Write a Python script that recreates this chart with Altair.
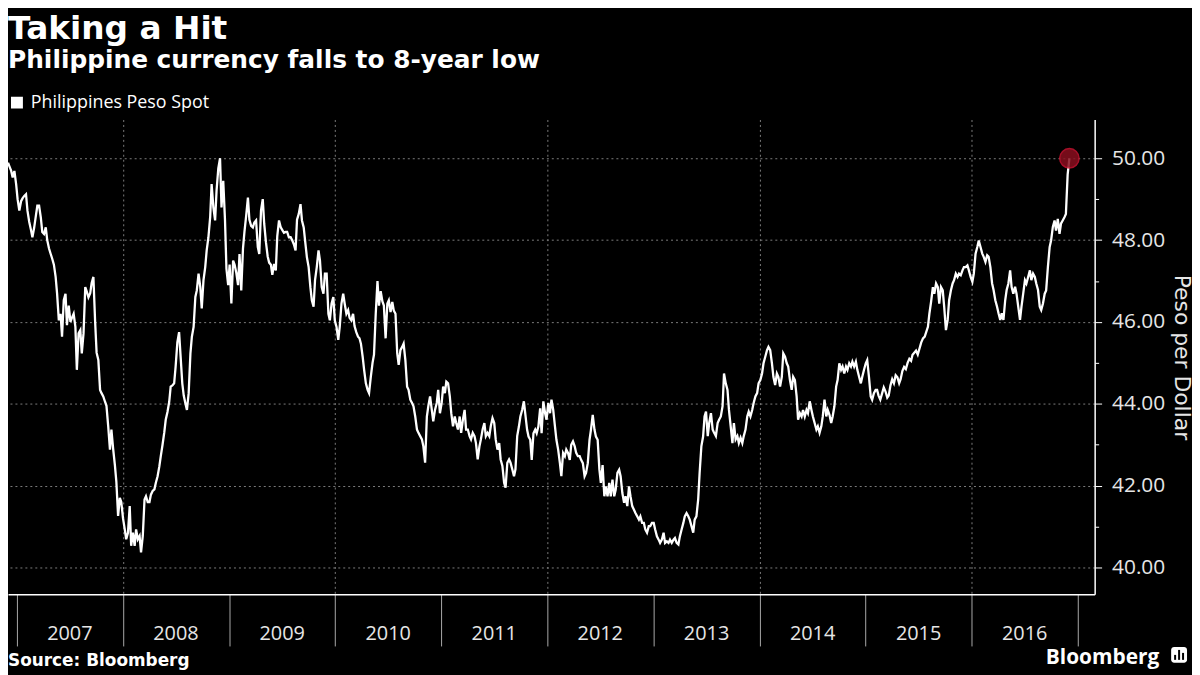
import altair as alt
import pandas as pd

# ---- data (USD/PHP spot), split in consecutive stretches ----
# each stretch: start date, end date, values evenly spaced in time between them
peso_a_start, peso_a_end = "2006-12-02", "2008-07-13"
peso_a = [49.89, 49.80, 49.69, 49.53, 49.69, 49.37, 49.00, 48.72, 48.95, 49.02,
          49.08, 49.12, 48.72, 48.45, 48.25, 48.07, 48.30, 48.60, 48.84, 48.84,
          48.55, 48.20, 48.15, 48.31, 48.00, 47.80, 47.66, 47.55, 47.40, 47.10,
          46.69, 46.04, 46.20, 45.64, 46.53, 46.69, 45.92, 46.40, 46.00, 46.10,
          46.20, 45.88, 44.83, 45.72, 45.80, 45.23, 45.72, 46.85, 46.75, 46.60,
          46.70, 46.95, 47.10, 46.00, 45.25, 45.07, 44.34, 44.26, 44.18, 44.05,
          43.95, 43.45, 42.88, 43.37, 42.90, 42.50, 42.10, 41.26, 41.70, 41.60,
          41.20, 40.93, 40.69, 40.85, 41.50, 40.53, 40.85, 40.53, 40.93, 40.69,
          40.77, 40.37, 40.77, 41.66, 41.74, 41.60, 41.60, 41.78, 41.87, 41.91,
          42.07, 42.23, 42.47, 42.72, 43.00, 43.30, 43.61, 43.80, 44.05, 44.42,
          44.45, 44.50, 44.90, 45.50, 45.75]

peso_b_start, peso_b_end = "2008-07-24", "2010-03-21"
peso_b = [44.50, 44.20, 44.00, 43.85, 44.26, 45.23, 45.64, 45.88, 46.61, 46.77,
          47.18, 46.85, 46.33, 47.02, 47.34, 47.75, 48.07, 48.56, 49.37, 48.80,
          48.48, 49.21, 49.75, 50.00, 48.80, 49.45, 48.50, 47.30, 46.90, 47.40,
          46.45, 47.50, 47.40, 47.20, 46.90, 47.66, 46.77, 47.80, 48.20, 48.60,
          49.04, 48.50, 48.35, 48.31, 48.43, 48.48, 47.83, 47.66, 48.72, 49.00,
          48.40, 47.95, 47.60, 47.45, 47.40, 47.15, 47.42, 47.26, 48.10, 48.48,
          48.31, 48.25, 48.18, 48.20, 48.20, 48.07, 48.07, 48.00, 47.90, 47.75,
          48.50, 48.64, 48.88, 48.48, 48.31, 47.91, 47.58, 47.34, 46.85, 46.53,
          46.37, 47.02, 47.34, 47.75, 47.50, 46.85, 46.69, 47.18, 47.18, 46.20,
          46.04, 46.45, 46.61, 46.04, 45.88, 45.56, 45.88, 46.45, 46.69, 46.45,
          46.20, 46.29, 46.10, 46.04, 46.20, 45.90, 45.75, 45.64]

peso_c_start, peso_c_end = "2010-03-26", "2011-10-13"
peso_c = [45.60, 45.47, 45.15, 44.83, 44.50, 44.34, 44.26, 44.66, 45.00, 45.20,
          46.20, 47.00, 46.40, 46.75, 46.50, 46.40, 45.60, 46.45, 46.53, 46.24,
          46.49, 46.28, 46.20, 45.23, 44.95, 45.31, 45.39, 45.47, 45.07, 44.42,
          44.34, 44.10, 44.02, 43.94, 43.69, 43.37, 43.29, 43.21, 43.13, 42.96,
          42.56, 43.69, 43.94, 44.18, 43.85, 43.57, 43.85, 44.02, 44.34, 43.77,
          44.02, 44.42, 44.26, 44.54, 44.50, 44.18, 43.77, 43.45, 43.69, 43.53,
          43.37, 43.69, 43.29, 43.61, 43.85, 43.37, 43.37, 43.21, 43.13, 43.29,
          43.21, 43.04, 42.64, 42.96, 43.13, 43.37, 43.53, 43.21, 43.29, 43.21,
          43.45, 43.65, 43.53, 43.13, 42.88, 43.04, 42.64, 42.48, 42.07, 41.95,
          42.56, 42.64, 42.56, 42.40, 42.23, 42.40, 43.21, 43.45, 43.69, 43.85,
          44.06]

peso_d_start, peso_d_end = "2011-10-24", "2013-06-21"
peso_d = [43.37, 43.20, 43.12, 42.63, 43.28, 43.37, 43.28, 43.45, 43.89, 43.28,
          44.06, 43.77, 43.61, 44.02, 43.77, 44.10, 43.85, 43.45, 43.12, 42.88,
          42.55, 42.23, 42.80, 42.72, 42.88, 42.80, 42.63, 43.00, 43.08, 42.96,
          42.80, 42.72, 42.72, 42.63, 42.55, 42.23, 42.31, 42.55, 43.12, 43.37,
          43.73, 43.37, 43.20, 43.12, 42.39, 42.07, 42.50, 41.74, 41.98, 41.74,
          42.07, 41.74, 42.15, 41.74, 41.90, 42.31, 42.39, 42.23, 41.82, 41.58,
          41.74, 41.50, 41.98, 41.74, 41.50, 41.41, 41.33, 41.25, 41.17, 41.25,
          41.09, 41.09, 40.93, 40.85, 41.01, 41.01, 41.09, 41.09, 40.93, 40.76,
          40.68, 40.60, 40.68, 40.85, 40.60, 40.64, 40.60, 40.68, 40.60, 40.68,
          40.72, 40.60, 40.56, 40.76, 40.93, 41.09, 41.25, 41.33, 41.25, 41.17,
          41.01, 40.85, 41.17, 41.25, 41.66, 42.31, 42.96, 43.20]

peso_e_start, peso_e_end = "2013-06-26", "2015-02-05"
peso_e = [43.69, 43.81, 43.21, 43.53, 43.77, 43.37, 43.29, 43.21, 43.53, 43.61,
          43.69, 43.94, 44.74, 44.50, 44.34, 43.85, 43.45, 43.04, 43.53, 43.13,
          43.21, 43.04, 43.17, 43.04, 43.21, 43.37, 43.69, 43.81, 43.69, 43.85,
          44.02, 44.18, 44.26, 44.50, 44.58, 44.74, 44.99, 45.15, 45.31, 45.39,
          45.31, 44.99, 44.66, 44.46, 44.74, 44.66, 44.42, 44.66, 45.23, 45.15,
          44.99, 44.91, 44.58, 44.34, 44.66, 44.58, 44.18, 43.61, 43.77, 43.69,
          43.85, 43.69, 43.85, 43.77, 44.06, 43.85, 43.69, 43.53, 43.37, 43.45,
          43.29, 43.45, 43.69, 44.10, 43.69, 43.85, 43.73, 43.53, 43.69, 43.94,
          44.42, 44.58, 44.99, 44.83, 44.91, 44.74, 44.91, 44.83, 44.99, 44.91,
          45.03, 44.91, 45.03, 44.83, 44.66, 44.50, 44.66, 44.83, 44.99, 45.07,
          44.66, 44.18, 44.10, 44.26, 44.34]

peso_f_start, peso_f_end = "2015-02-10", "2015-07-18"
peso_f = [44.34, 44.20, 44.10, 44.25, 44.40, 44.30, 44.15, 44.20, 44.45, 44.60,
          44.50, 44.70, 44.65, 44.50, 44.60, 44.80, 44.90, 44.85, 45.00, 45.10,
          45.05, 45.20, 45.25, 45.30, 45.20, 45.35, 45.50, 45.60]

peso_g_start, peso_g_end = "2015-07-24", "2016-12-03"
peso_g = [45.64, 45.75, 45.88, 46.20, 46.50, 46.85, 46.69, 46.94, 46.85, 46.45,
          46.85, 46.77, 46.37, 45.80, 46.05, 46.53, 46.77, 46.94, 47.02, 47.18,
          47.10, 47.18, 47.14, 47.26, 47.34, 47.34, 47.38, 47.26, 47.10, 46.98,
          47.18, 47.67, 47.83, 47.99, 47.83, 47.67, 47.59, 47.47, 47.63, 47.59,
          47.34, 46.94, 46.78, 46.53, 46.37, 46.21, 46.05, 46.21, 46.05, 46.53,
          46.78, 46.94, 47.26, 46.86, 46.69, 46.86, 46.69, 46.37, 46.05, 46.37,
          46.69, 47.02, 46.94, 47.10, 47.26, 47.02, 47.18, 47.10, 46.94, 46.78,
          46.37, 46.29, 46.45, 46.69, 46.77, 47.34, 47.83, 47.99, 48.32, 48.48,
          48.23, 48.52, 48.15, 48.40, 48.48, 48.56, 48.64, 49.60, 50.00]

stretches = [
    (peso_a_start, peso_a_end, peso_a),
    (peso_b_start, peso_b_end, peso_b),
    (peso_c_start, peso_c_end, peso_c),
    (peso_d_start, peso_d_end, peso_d),
    (peso_e_start, peso_e_end, peso_e),
    (peso_f_start, peso_f_end, peso_f),
    (peso_g_start, peso_g_end, peso_g),
]

series_name = "Philippines Peso Spot"
year_ticks = list(range(2007, 2018))
y_ticks = list(range(40, 51))

frames = []
for start, end, vals in stretches:
    dates = pd.date_range(start, end, periods=len(vals))
    frames.append(pd.DataFrame({"date": dates.strftime("%Y-%m-%d"), "value": vals}))
df = pd.concat(frames, ignore_index=True)
df["series"] = series_name
last = df.tail(1)

# ---- chart ----
W, H = 1094, 478
GRID = "#7c7c7c"
LABEL = "#e6e6e6"

x_scale = alt.Scale(domain=[alt.DateTime(year=2006, month=12, date=2),
                            alt.DateTime(year=2017, month=2, date=28)])
y_scale = alt.Scale(domain=[39.345, 50.947], nice=False, zero=False)

x_axis = alt.Axis(
    values=[alt.DateTime(year=y, month=1, date=1) for y in year_ticks],
    title=None,
    labelExpr="year(datum.value) < 2017 ? timeFormat(datum.value, '%Y') : ''",
    labelOffset=53, labelPadding=-12, labelBaseline="middle", labelAlign="center",
    labelFont="Open Sans", labelFontSize=20, labelColor=LABEL,
    labelFlush=False, labelOverlap=False, labelBound=False,
    tickSize=52, tickColor="#a8a8a8", tickWidth=1,
    domainColor="white", domainWidth=1.5,
    grid=True, gridColor=GRID, gridDash=[2, 3], gridWidth=1,
    gridOpacity={"condition": {"test": "year(datum.value) % 2 == 0", "value": 1}, "value": 0},
)

y_axis = alt.Axis(
    orient="right", values=y_ticks,
    labelExpr="datum.value % 2 == 0 ? format(datum.value, '.2f') : ''",
    tickSize={"condition": {"test": "datum.value % 2 == 0", "value": 7}, "value": 4},
    tickColor="white", tickWidth=1,
    domainColor="white", domainWidth=1.5,
    labelPadding=10, labelFont="Open Sans", labelFontSize=21, labelColor=LABEL,
    grid=True, gridColor=GRID, gridDash=[2, 3], gridWidth=1,
    gridOpacity={"condition": {"test": "datum.value % 2 == 0", "value": 1}, "value": 0},
    title="Peso per Dollar", titleFont="DejaVu Sans", titleFontSize=22,
    titleFontWeight="normal", titleColor=LABEL, titlePadding=5,
)

line = alt.Chart(df).mark_line(strokeWidth=2.3).encode(
    x=alt.X("date:T", scale=x_scale, axis=x_axis),
    y=alt.Y("value:Q", scale=y_scale, axis=y_axis),
    color=alt.Color("series:N", scale=alt.Scale(range=["#ffffff"]),
                    legend=alt.Legend(title=None, orient="none", legendX=0, legendY=-26,
                                      symbolType="square", symbolSize=49,
                                      symbolStrokeWidth=5, symbolFillColor="white",
                                      symbolStrokeColor="white",
                                      labelFont="Open Sans", labelFontSize=18,
                                      labelLimit=400,
                                      labelColor="white", labelOffset=5, padding=0)),
)

dot = alt.Chart(last).mark_circle(size=380, color="#8a0f1f", opacity=0.85,
                                  stroke="#c4122f", strokeWidth=1.5).encode(
    x="date:T", y="value:Q")

one = alt.Data(values=[{}])
source = alt.Chart(one).mark_text(text="Source: Bloomberg", font="DejaVu Sans",
                                  fontWeight="bold", fontSize=17, color="white",
                                  align="left", baseline="alphabetic").encode(
    x=alt.value(0), y=alt.value(550))
brand = alt.Chart(one).mark_text(text="Bloomberg", font="Open Sans", fontWeight="bold",
                                 fontSize=21, color="white", align="right",
                                 baseline="alphabetic").encode(
    x=alt.value(1159), y=alt.value(548))
icon = alt.Chart(one).mark_rect(color="white", cornerRadius=3).encode(
    x=alt.value(1171), x2=alt.value(1187), y=alt.value(531), y2=alt.value(547))
bar1 = alt.Chart(one).mark_rect(color="black").encode(
    x=alt.value(1174), x2=alt.value(1176), y=alt.value(539), y2=alt.value(544))
bar2 = alt.Chart(one).mark_rect(color="black").encode(
    x=alt.value(1178), x2=alt.value(1180), y=alt.value(534), y2=alt.value(544))
bar3 = alt.Chart(one).mark_rect(color="black").encode(
    x=alt.value(1182), x2=alt.value(1184), y=alt.value(537), y2=alt.value(544))

chart = alt.layer(line, dot, source, brand, icon, bar1, bar2, bar3).properties(
    width=W, height=H,
    padding={"left": 0, "top": 110, "right": 98, "bottom": 79},
    autosize=alt.AutoSizeParams(type="none"),
    background="black",
    title=alt.TitleParams(
        text="Taking a Hit", subtitle="Philippine currency falls to 8-year low",
        anchor="start", frame="group", orient="top", offset=21,
        font="DejaVu Sans", fontSize=33, fontWeight="bold", color="white",
        subtitleFont="DejaVu Sans", subtitleFontSize=25, subtitleFontWeight="bold",
        subtitleColor="white", subtitlePadding=2,
    ),
).configure_view(stroke=None)

chart.save("out.html", embed_options={"renderer": "svg", "actions": False})
